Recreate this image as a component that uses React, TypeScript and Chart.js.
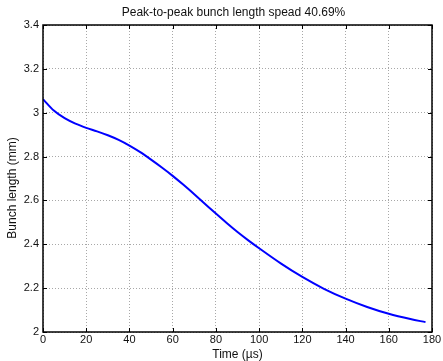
import React, { useEffect, useRef } from "react";
import { Chart, registerables } from "chart.js";

Chart.register(...registerables);

const chartTitle = "Peak-to-peak bunch length spead 40.69%";
const xAxisTitle = "Time (µs)";
const yAxisTitle = "Bunch length (mm)";

const timeUs = [0, 5, 10, 15, 20, 25, 30, 35, 40, 45, 50, 55, 60, 65, 70, 75, 80, 85, 90, 95, 100, 110, 120, 130, 140, 150, 160, 170, 177];
const bunchLength = [3.062, 3.010, 2.975, 2.950, 2.931, 2.915, 2.897, 2.876, 2.850, 2.820, 2.786, 2.750, 2.712, 2.671, 2.628, 2.584, 2.540, 2.497, 2.456, 2.418, 2.382, 2.313, 2.251, 2.197, 2.152, 2.114, 2.083, 2.059, 2.045];

const xMin = 0, xMax = 180, xStep = 20;
const yMin = 2, yMax = 3.4, yStep = 0.2;

const FONT = "'Liberation Sans', Arial, Helvetica, sans-serif";

const framePlugin = {
  id: "frame",
  afterDraw(chart: any) {
    const { ctx, chartArea: a, scales } = chart;
    ctx.save();
    ctx.strokeStyle = "#000";
    ctx.lineWidth = 1.5;
    ctx.strokeRect(a.left, a.top, a.right - a.left, a.bottom - a.top);
    ctx.lineWidth = 1;
    const tl = 4;
    scales.x.ticks.forEach((t: any) => {
      const px = Math.round(scales.x.getPixelForValue(t.value)) + 0.5;
      ctx.beginPath();
      ctx.moveTo(px, a.bottom); ctx.lineTo(px, a.bottom - tl);
      ctx.moveTo(px, a.top); ctx.lineTo(px, a.top + tl);
      ctx.stroke();
    });
    scales.y.ticks.forEach((t: any) => {
      const py = Math.round(scales.y.getPixelForValue(t.value)) + 0.5;
      ctx.beginPath();
      ctx.moveTo(a.left, py); ctx.lineTo(a.left + tl, py);
      ctx.moveTo(a.right, py); ctx.lineTo(a.right - tl, py);
      ctx.stroke();
    });
    ctx.fillStyle = "#111";
    ctx.textAlign = "center";
    ctx.textBaseline = "middle";
    const cx = (a.left + a.right) / 2;
    ctx.font = `12px ${FONT}`;
    ctx.fillText(chartTitle, cx - 4, 13);
    ctx.fillText(xAxisTitle, cx, 355);
    ctx.translate(12.5, 188);
    ctx.rotate(-Math.PI / 2);
    ctx.fillText(yAxisTitle, 0, 0);
    ctx.restore();
  },
};

function App() {
  const ref = useRef<HTMLCanvasElement | null>(null);
  useEffect(() => {
    document.body.style.margin = "0";
    const data = timeUs.map((x, i) => ({ x, y: bunchLength[i] }));
    const chart = new Chart(ref.current as HTMLCanvasElement, {
      type: "line",
      data: {
        datasets: [
          {
            data,
            borderColor: "#0000ff",
            borderWidth: 2,
            pointRadius: 0,
            cubicInterpolationMode: "monotone",
            fill: false,
          },
        ],
      },
      options: {
        animation: false,
        responsive: false,
        devicePixelRatio: 1,
        layout: { padding: { top: 25, right: 11, left: 0, bottom: 0 } },
        plugins: { legend: { display: false }, title: { display: false }, tooltip: { enabled: false } },
        scales: {
          x: {
            type: "linear",
            min: xMin,
            max: xMax,
            afterFit: (s: any) => { s.height = 29; },
            ticks: {
              stepSize: xStep,
              padding: 1,
              maxRotation: 0,
              color: "#111",
              font: { family: FONT, size: 11 },
              callback: (v: any) => String(v),
            },
            grid: { color: "#a8a8a8", lineWidth: 1, drawTicks: false },
            border: { display: false, dash: [1, 2] },
          },
          y: {
            type: "linear",
            min: yMin,
            max: yMax,
            afterFit: (s: any) => { s.width = 43; },
            ticks: {
              stepSize: yStep,
              padding: 4,
              color: "#111",
              font: { family: FONT, size: 11 },
              callback: (v: any) => String(Math.round(v * 10) / 10),
            },
            grid: { color: "#a8a8a8", lineWidth: 1, drawTicks: false },
            border: { display: false, dash: [1, 2] },
          },
        },
      },
      plugins: [framePlugin],
    } as any);
    return () => chart.destroy();
  }, []);
  return (
    <div style={{ position: "absolute", left: 0, top: 0, width: 443, height: 361, background: "#fff" }}>
      <canvas ref={ref} width={443} height={361} style={{ display: "block" }} />
    </div>
  );
}

export default App;
